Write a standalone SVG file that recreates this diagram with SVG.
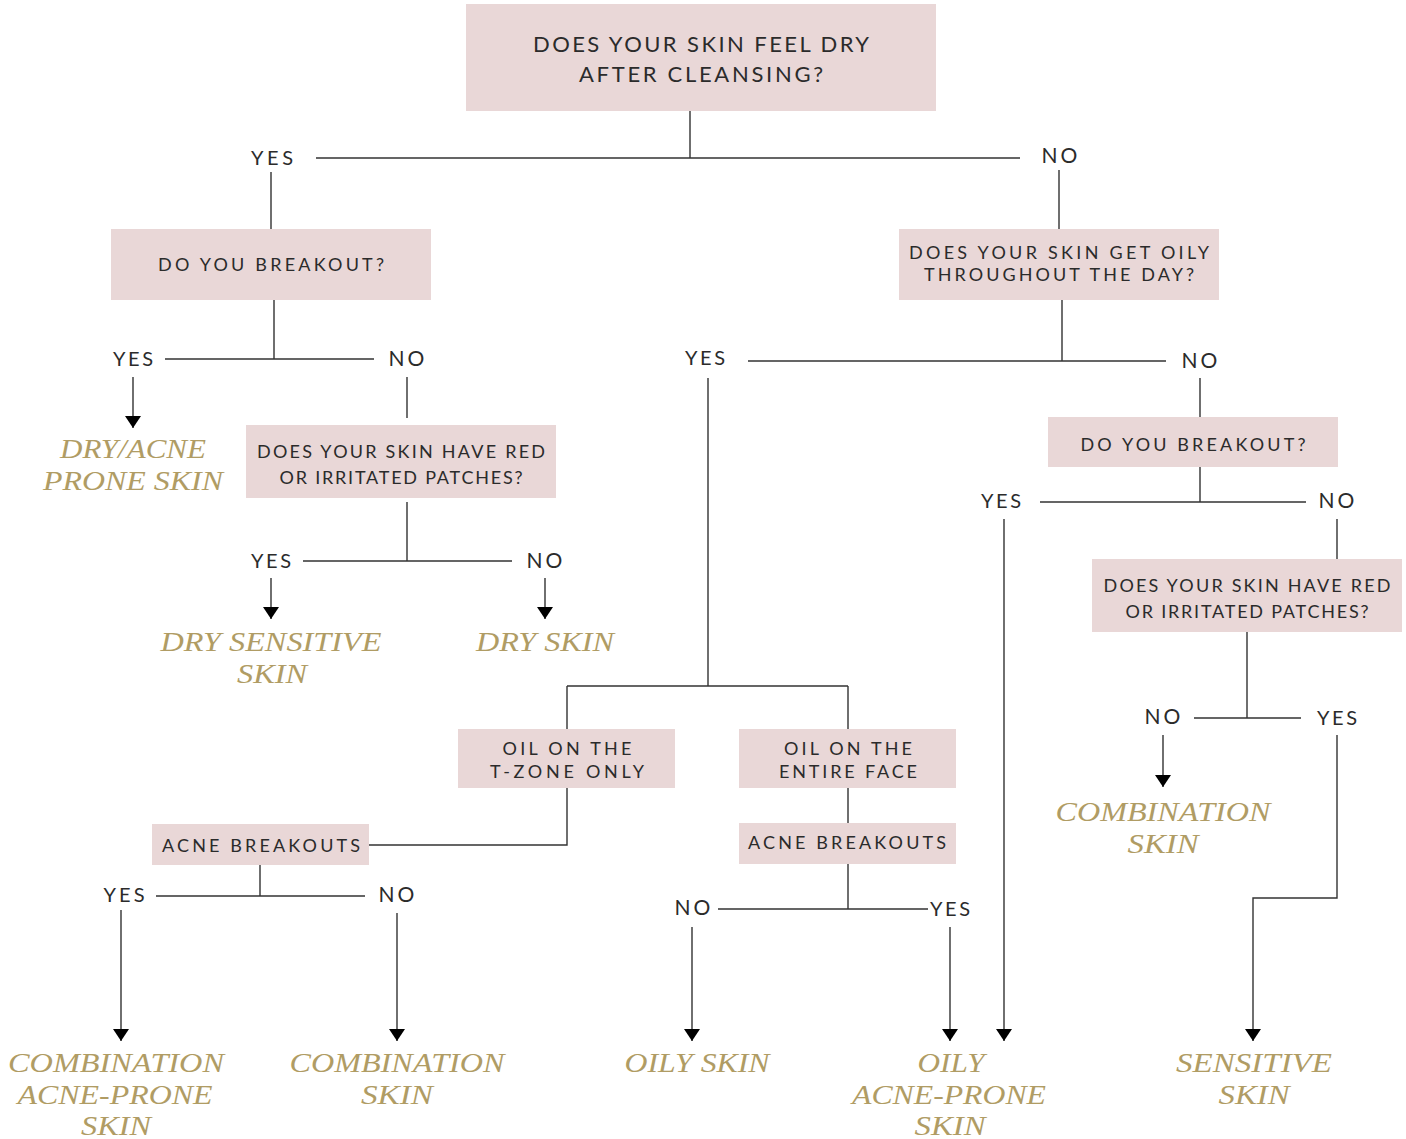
<svg xmlns="http://www.w3.org/2000/svg" width="1406" height="1139" viewBox="0 0 1406 1139">
<style>
.box{fill:#e9d7d7}
.q{font-family:Lato,"Liberation Sans",sans-serif;font-size:18px;fill:#2b2b2b;text-anchor:middle}
.qt{font-family:Lato,"Liberation Sans",sans-serif;font-size:22px;fill:#2b2b2b;text-anchor:middle}
.lb{font-family:Lato,"Liberation Sans",sans-serif;font-size:20px;fill:#2b2b2b;text-anchor:middle}
.no{font-family:Lato,"Liberation Sans",sans-serif;font-size:21px;fill:#2b2b2b;text-anchor:middle;letter-spacing:3px}
.r{font-family:"Liberation Serif",serif;font-style:italic;font-size:28px;fill:#b09c64;text-anchor:middle}
.c{fill:none;stroke:#333;stroke-width:1.4}
.a{marker-end:url(#ah)}
</style>
<defs>
<marker id="ah" markerUnits="userSpaceOnUse" markerWidth="12" markerHeight="16" refX="12" refY="8" orient="auto">
<path d="M0,0 L12,8 L0,16 z" fill="#000"/>
</marker>
</defs>
<rect width="1406" height="1139" fill="#fff"/>

<g id="connectors">
<path class="c" d="M690,111 V158 M316,158 H1020"/>
<path class="c" d="M271,172 V229 M1059,170 V229"/>
<path class="c" d="M274,300 V359 M165,359 H374"/>
<path class="c a" d="M133,377 V428"/>
<path class="c" d="M407,377 V418"/>
<path class="c" d="M407,502 V561 M303,561 H512"/>
<path class="c a" d="M271,578 V619"/>
<path class="c a" d="M545,578 V619"/>
<path class="c" d="M1062,300 V361 M748,361 H1166"/>
<path class="c" d="M708,378 V686 M567,686 H848 M567,686 V729 M848,686 V729"/>
<path class="c" d="M1200,378 V417"/>
<path class="c" d="M1200,467 V502 M1040,502 H1306"/>
<path class="c a" d="M1004,519 V1041"/>
<path class="c" d="M1337,519 V559"/>
<path class="c" d="M1247,632 V718 M1194,718 H1301"/>
<path class="c a" d="M1163,735 V787"/>
<path class="c a" d="M1337,735 V898 H1253 V1041"/>
<path class="c" d="M567,788 V845 H369"/>
<path class="c" d="M260,865 V896 M156,896 H365"/>
<path class="c a" d="M121,910 V1041"/>
<path class="c a" d="M397,913 V1041"/>
<path class="c" d="M848,788 V823 M848,864 V909 M718,909 H928"/>
<path class="c a" d="M692,927 V1041"/>
<path class="c a" d="M950,927 V1041"/>
</g>

<g id="labels">
<text class="lb" x="272" y="165" textLength="42">YES</text>
<text class="no" x="1061" y="163">NO</text>
<text class="lb" x="133" y="366" textLength="40">YES</text>
<text class="no" x="408" y="366">NO</text>
<text class="lb" x="271" y="568" textLength="40">YES</text>
<text class="no" x="546" y="568">NO</text>
<text class="lb" x="705" y="365" textLength="40">YES</text>
<text class="no" x="1201" y="368">NO</text>
<text class="lb" x="1001" y="508" textLength="40">YES</text>
<text class="no" x="1338" y="508">NO</text>
<text class="no" x="1164" y="724">NO</text>
<text class="lb" x="1337" y="725" textLength="40">YES</text>
<text class="lb" x="124" y="902" textLength="41">YES</text>
<text class="no" x="398" y="902">NO</text>
<text class="no" x="694" y="915">NO</text>
<text class="lb" x="950" y="916" textLength="40">YES</text>
</g>

<g id="n-dry">
<rect class="box" x="466" y="4" width="470" height="107"/>
<text class="qt" x="701" y="52" textLength="336">DOES YOUR SKIN FEEL DRY</text>
<text class="qt" x="701" y="82" textLength="244">AFTER CLEANSING?</text>
</g>
<g id="n-breakout-l">
<rect class="box" x="111" y="229" width="320" height="71"/>
<text class="q" x="271" y="271" textLength="226">DO YOU BREAKOUT?</text>
</g>
<g id="n-oily">
<rect class="box" x="899" y="229" width="320" height="71"/>
<text class="q" x="1059" y="259" textLength="300">DOES YOUR SKIN GET OILY</text>
<text class="q" x="1059" y="281" textLength="270">THROUGHOUT THE DAY?</text>
</g>
<g id="n-red-l">
<rect class="box" x="246" y="425" width="310" height="73"/>
<text class="q" x="401" y="458" textLength="288">DOES YOUR SKIN HAVE RED</text>
<text class="q" x="401" y="484" textLength="243">OR IRRITATED PATCHES?</text>
</g>
<g id="n-breakout-r">
<rect class="box" x="1048" y="417" width="290" height="50"/>
<text class="q" x="1193" y="451" textLength="225">DO YOU BREAKOUT?</text>
</g>
<g id="n-red-r">
<rect class="box" x="1092" y="559" width="310" height="73"/>
<text class="q" x="1247" y="592" textLength="287">DOES YOUR SKIN HAVE RED</text>
<text class="q" x="1247" y="618" textLength="243">OR IRRITATED PATCHES?</text>
</g>
<g id="n-tzone">
<rect class="box" x="458" y="729" width="217" height="59"/>
<text class="q" x="567" y="755" textLength="129">OIL ON THE</text>
<text class="q" x="567" y="778" textLength="154">T-ZONE ONLY</text>
</g>
<g id="n-entire">
<rect class="box" x="739" y="729" width="217" height="59"/>
<text class="q" x="848" y="755" textLength="128">OIL ON THE</text>
<text class="q" x="848" y="778" textLength="138">ENTIRE FACE</text>
</g>
<g id="n-acne-l">
<rect class="box" x="152" y="824" width="217" height="41"/>
<text class="q" x="261" y="852" textLength="198">ACNE BREAKOUTS</text>
</g>
<g id="n-acne-r">
<rect class="box" x="739" y="823" width="217" height="41"/>
<text class="q" x="847" y="849" textLength="198">ACNE BREAKOUTS</text>
</g>

<g id="r-dryacne">
<text class="r" x="133" y="458" textLength="146" lengthAdjust="spacingAndGlyphs">DRY/ACNE</text>
<text class="r" x="133" y="490" textLength="180" lengthAdjust="spacingAndGlyphs">PRONE SKIN</text>
</g>
<g id="r-drysens">
<text class="r" x="271" y="651" textLength="221" lengthAdjust="spacingAndGlyphs">DRY SENSITIVE</text>
<text class="r" x="272" y="683" textLength="70" lengthAdjust="spacingAndGlyphs">SKIN</text>
</g>
<g id="r-dry">
<text class="r" x="545" y="651" textLength="138" lengthAdjust="spacingAndGlyphs">DRY SKIN</text>
</g>
<g id="r-comb-r">
<text class="r" x="1163" y="821" textLength="215" lengthAdjust="spacingAndGlyphs">COMBINATION</text>
<text class="r" x="1163" y="853" textLength="71" lengthAdjust="spacingAndGlyphs">SKIN</text>
</g>
<g id="r-combacne">
<text class="r" x="116" y="1072" textLength="216" lengthAdjust="spacingAndGlyphs">COMBINATION</text>
<text class="r" x="115" y="1104" textLength="195" lengthAdjust="spacingAndGlyphs">ACNE-PRONE</text>
<text class="r" x="116" y="1135" textLength="70" lengthAdjust="spacingAndGlyphs">SKIN</text>
</g>
<g id="r-comb-l">
<text class="r" x="397" y="1072" textLength="215" lengthAdjust="spacingAndGlyphs">COMBINATION</text>
<text class="r" x="397" y="1104" textLength="72" lengthAdjust="spacingAndGlyphs">SKIN</text>
</g>
<g id="r-oily">
<text class="r" x="697" y="1072" textLength="145" lengthAdjust="spacingAndGlyphs">OILY SKIN</text>
</g>
<g id="r-oilyacne">
<text class="r" x="951" y="1072" textLength="67" lengthAdjust="spacingAndGlyphs">OILY</text>
<text class="r" x="949" y="1104" textLength="194" lengthAdjust="spacingAndGlyphs">ACNE-PRONE</text>
<text class="r" x="950" y="1135" textLength="71" lengthAdjust="spacingAndGlyphs">SKIN</text>
</g>
<g id="r-sens">
<text class="r" x="1254" y="1072" textLength="156" lengthAdjust="spacingAndGlyphs">SENSITIVE</text>
<text class="r" x="1254" y="1104" textLength="71" lengthAdjust="spacingAndGlyphs">SKIN</text>
</g>
</svg>
